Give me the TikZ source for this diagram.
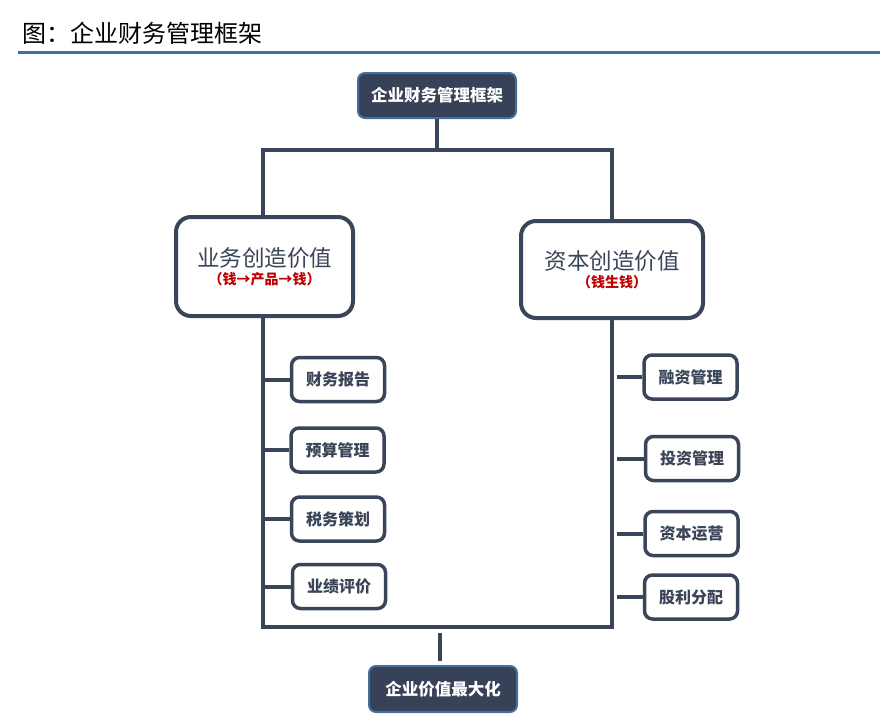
\documentclass[tikz,border=0pt]{standalone}
\usepackage{fontspec}
\setmainfont{Noto Sans CJK SC}
\definecolor{linec}{HTML}{3A4559}
\definecolor{nodefill}{HTML}{374258}
\definecolor{nodeborder}{HTML}{41719C}
\definecolor{titleblue}{HTML}{3F6EA0}
\definecolor{redtxt}{HTML}{C00000}
\definecolor{graytxt}{HTML}{3B4558}
\tikzset{
  conn/.style={draw=linec, line width=4pt},
  darkbox/.style={draw=nodeborder, fill=nodefill, line width=2pt, rounded corners=7pt,
    text=white, font=\fontsize{16.5}{19}\selectfont\bfseries, inner sep=0pt},
  bigbox/.style={draw=linec, fill=white, line width=4pt, rounded corners=15pt, inner sep=0pt,
    align=center, text=graytxt},
  smallbox/.style={draw=linec, fill=white, line width=3.5pt, rounded corners=8pt, inner sep=0pt,
    minimum width=93pt, minimum height=44pt, text=graytxt, font=\fontsize{16}{19}\selectfont\bfseries},
}
\begin{document}
\begin{tikzpicture}[x=1pt,y=-1pt]
\useasboundingbox (0,0) rectangle (891,720);
\fill[white] (0,0) rectangle (891,720);
% title
\node[anchor=west, inner sep=0pt, font=\fontsize{24}{27}\selectfont, text=black] (title) at (22,33) {图：企业财务管理框架};
\draw[titleblue, line width=3.5pt] (18,52.5) -- (880,52.5);
% nodes
\node[darkbox, minimum width=158pt, minimum height=45pt] (top) at (437,95.5) {企业财务管理框架};
\node[bigbox, minimum width=177pt, minimum height=99pt] (lbig) at (264.5,266.5)
  {{\fontsize{22.5}{25}\selectfont 业务创造价值}\\[3pt]{\fontsize{14}{16}\selectfont\bfseries\color{redtxt}（钱→产品→钱）}};
\node[bigbox, minimum width=182pt, minimum height=97pt] (rbig) at (612,269.5)
  {{\fontsize{22.5}{25}\selectfont 资本创造价值}\\[3pt]{\fontsize{14}{16}\selectfont\bfseries\color{redtxt}（钱生钱）}};
\node[smallbox] (l1) at (338,379.5) {财务报告};
\node[smallbox] (l2) at (337.5,450) {预算管理};
\node[smallbox] (l3) at (338,519) {税务策划};
\node[smallbox] (l4) at (339,586.5) {业绩评价};
\node[smallbox] (r1) at (690.5,377) {融资管理};
\node[smallbox] (r2) at (692,458.5) {投资管理};
\node[smallbox] (r3) at (691.5,533.5) {资本运营};
\node[smallbox] (r4) at (691,597) {股利分配};
\node[darkbox, minimum width=148pt, minimum height=46pt] (bot) at (443,689) {企业价值最大化};
% junctions
\coordinate (jt) at (437,150);
\coordinate (jl) at (263,150);
\coordinate (jr) at (612,150);
\coordinate (bl) at (263,627);
\coordinate (br) at (612,627);
\coordinate (rx) at (617,0);
\coordinate (b1) at (440,633);
\coordinate (b2) at (440,661);
% connectors
\draw[conn] (top) -- (jt);
\draw[conn] ([xshift=-2pt]jl) -- ([xshift=2pt]jr);
\draw[conn] ([yshift=-2pt]jl) -- (jl |- lbig.north);
\draw[conn] ([yshift=-2pt]jr) -- (jr |- rbig.north);
\draw[conn] (jl |- lbig.south) -- ([yshift=2pt]bl);
\draw[conn] (jr |- rbig.south) -- ([yshift=2pt]br);
\draw[conn] ([xshift=-2pt]bl) -- ([xshift=2pt]br);
\foreach \n in {l1,l2,l3,l4} \draw[conn] (bl |- \n) -- (\n.west);
\foreach \n in {r1,r2,r3,r4} \draw[conn] (rx |- \n) -- (\n.west);
\draw[conn] (b1) -- (b2);
\end{tikzpicture}
\end{document}
